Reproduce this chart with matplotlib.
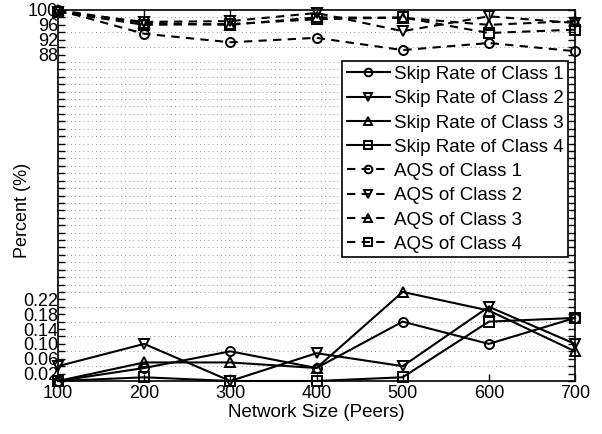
import numpy as np
import matplotlib
matplotlib.use('Agg')
from matplotlib import pyplot as plt

plt.rcParams['font.family'] = ['Liberation Sans', 'DejaVu Sans']

peers = [100, 200, 300, 400, 500, 600, 700]

# skip rates (plotted x100 on the shared percent axis)
skip1 = [0.00, 0.035, 0.08, 0.035, 0.16, 0.10, 0.17]
skip2 = [0.04, 0.10, 0.00, 0.075, 0.04, 0.20, 0.10]
skip3 = [0.00, 0.05, 0.05, 0.035, 0.24, 0.19, 0.08]
skip4 = [0.00, 0.01, 0.00, 0.00, 0.01, 0.16, 0.17]

# AQS in percent
aqs1 = [100, 93.6, 91.3, 92.5, 89.2, 91.1, 88.9]
aqs2 = [99.5, 96.8, 97.0, 99.2, 94.3, 98.3, 96.5]
aqs3 = [100, 96.5, 96.0, 98.0, 97.9, 96.0, 97.0]
aqs4 = [99.5, 96.0, 96.2, 97.5, 98.0, 93.8, 94.7]

ytick_vals = [2, 6, 10, 14, 18, 22, 88, 92, 96, 100]
ytick_labels = ['0.02', '0.06', '0.10', '0.14', '0.18', '0.22', '88', '92', '96', '100']

FS = 13
LFS = 13.5

fig = plt.figure(figsize=(6.02, 4.34), dpi=100)
ax = fig.add_axes([58 / 602, 1 - 381 / 434, 517 / 602, 371 / 434])

markers = ['o', 'v', '^', 's']
kw = dict(color='black', lw=1.5, ms=6.5, mfc='none', mew=1.4, clip_on=False)
for i, s in enumerate([skip1, skip2, skip3, skip4]):
    ax.plot(peers, np.array(s) * 100, '-', marker=markers[i],
            label='Skip Rate of Class %d' % (i + 1), **kw)
for i, a in enumerate([aqs1, aqs2, aqs3, aqs4]):
    ax.plot(peers, a, '--', marker=markers[i], dashes=(4, 3),
            label='AQS of Class %d' % (i + 1), **kw)

ax.set_xlim(100, 700)
ax.set_ylim(0, 100)
ax.set_xticks(peers)
ax.set_yticks(ytick_vals)
ax.set_yticklabels(ytick_labels)
ax.set_yticks(np.arange(0, 101, 2), minor=True)
ax.tick_params(axis='both', which='both', direction='in', top=True, right=True,
               labelsize=FS, width=1)
ax.tick_params(axis='both', which='major', length=5)
ax.tick_params(axis='y', which='minor', length=5)
ax.tick_params(axis='y', which='major', pad=0)
ax.tick_params(axis='x', which='major', pad=3)
ax.grid(True, axis='y', which='minor', linestyle=(0, (1, 4)), color='#777777', lw=0.6)
for sp in ax.spines.values():
    sp.set_linewidth(1.2)

ax.set_xlabel('Network Size (Peers)', fontsize=LFS, labelpad=1)
ax.set_ylabel('Percent (%)', fontsize=FS)
ax.yaxis.set_label_coords(-0.052, 0.46)

leg = ax.legend(loc='upper right', bbox_to_anchor=(0.9865, 0.862), fontsize=LFS,
                handlelength=2.3, labelspacing=0.38, borderpad=0.25,
                handletextpad=0.2, borderaxespad=0, markerscale=0.85,
                fancybox=False, framealpha=1)
leg.get_frame().set_edgecolor('black')
leg.get_frame().set_linewidth(1.2)

plt.savefig('out.png')
plt.close()
